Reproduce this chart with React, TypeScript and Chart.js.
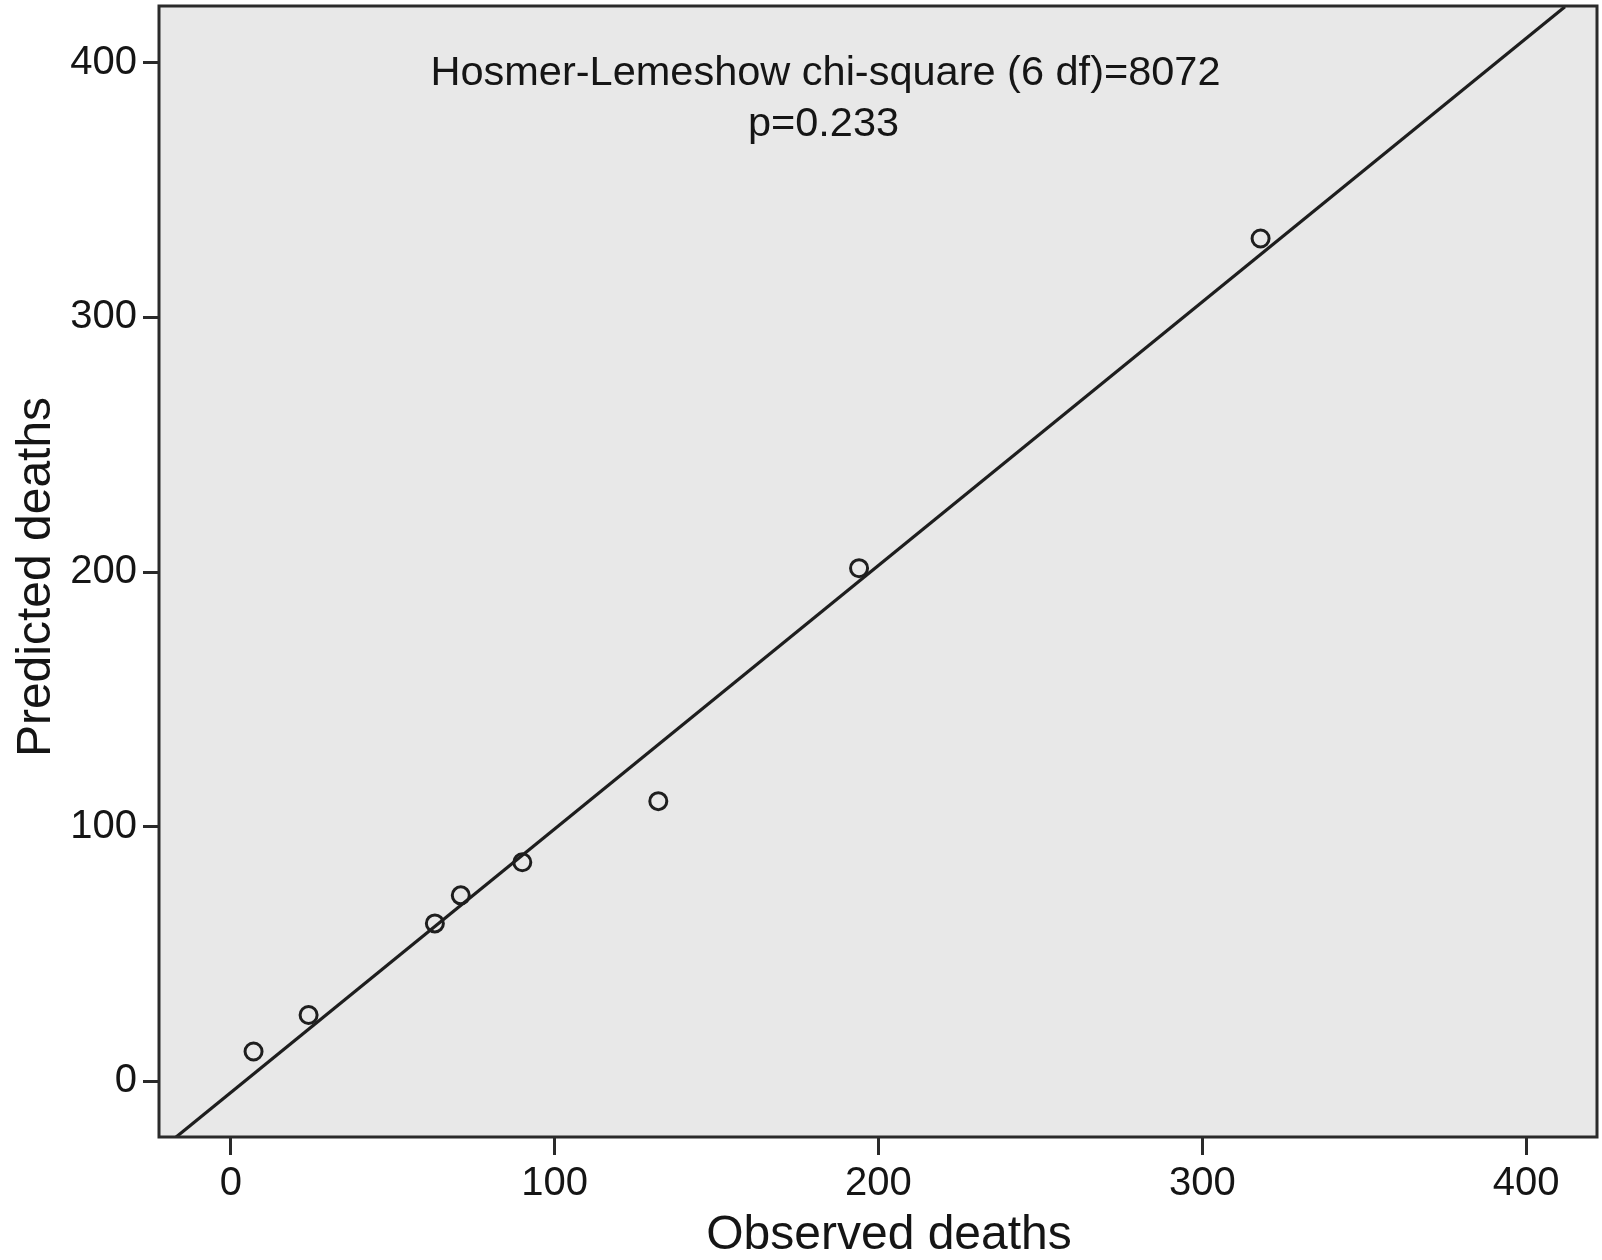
import React, { useEffect, useRef } from "react";
import { Chart, registerables } from "chart.js";

Chart.register(...registerables);

// Observed vs predicted deaths (Hosmer-Lemeshow groups)
const observedDeaths = [7, 24, 63, 71, 90, 132, 194, 318];
const predictedDeaths = [11.7, 26, 62, 73, 86, 110, 201.5, 331];

// Fitted reference line end points
const fitLineX = [-17, 412];
const fitLineY = [-22, 422];

const tickValues = [0, 100, 200, 300, 400];
const xRange = [-22.2, 421.9];
const yRange = [-21.9, 422.3];

const statLine1 = "Hosmer-Lemeshow chi-square (6 df)=8072";
const statLine2 = "p=0.233";
const xTitle = "Observed deaths";
const yTitle = "Predicted deaths";

const FONT = "'Liberation Sans', Arial, sans-serif";
const INK = "#151515";

const framePlugin = {
  id: "frameAndText",
  beforeDatasetsDraw(chart: any) {
    const { ctx, chartArea } = chart;
    ctx.save();
    ctx.fillStyle = "#e8e8e8";
    ctx.fillRect(chartArea.left, chartArea.top, chartArea.right - chartArea.left, chartArea.bottom - chartArea.top);
    ctx.restore();
  },
  afterDatasetsDraw(chart: any) {
    const { ctx, chartArea } = chart;
    ctx.save();
    ctx.strokeStyle = "#2a2a2a";
    ctx.lineWidth = 3;
    ctx.strokeRect(chartArea.left, chartArea.top, chartArea.right - chartArea.left, chartArea.bottom - chartArea.top);

    ctx.fillStyle = INK;
    ctx.textAlign = "center";
    ctx.textBaseline = "alphabetic";
    ctx.font = `41.5px ${FONT}`;
    ctx.fillText(statLine1, 825.5, 85);
    ctx.fillText(statLine2, 823.5, 136);

    ctx.font = `48px ${FONT}`;
    ctx.fillText(xTitle, 889, 1249);

    ctx.translate(50, 577);
    ctx.rotate(-Math.PI / 2);
    ctx.fillText(yTitle, 0, 0);
    ctx.restore();
  },
};

export default function App() {
  const ref = useRef<HTMLCanvasElement | null>(null);

  useEffect(() => {
    document.body.style.margin = "0";
    const canvas = ref.current;
    if (!canvas) return;
    const points = observedDeaths.map((x, i) => ({ x, y: predictedDeaths[i] }));
    const line = fitLineX.map((x, i) => ({ x, y: fitLineY[i] }));

    const tickFont = { family: FONT, size: 40 };

    const chart = new Chart(canvas, {
      type: "scatter",
      data: {
        datasets: [
          {
            label: "Fit",
            data: line,
            showLine: true,
            borderColor: "#1e1e1e",
            borderWidth: 3.2,
            pointRadius: 0,
            fill: false,
            order: 2,
          },
          {
            label: "Groups",
            data: points,
            showLine: false,
            pointRadius: 8.5,
            pointStyle: "circle",
            borderWidth: 3,
            borderColor: "#1e1e1e",
            backgroundColor: "rgba(0,0,0,0)",
            order: 1,
          },
        ],
      },
      plugins: [framePlugin],
      options: {
        responsive: false,
        animation: false,
        layout: { padding: 0, autoPadding: false },
        plugins: {
          legend: { display: false },
          tooltip: { enabled: false },
        },
        scales: {
          x: {
            type: "linear",
            min: xRange[0],
            max: xRange[1],
            afterBuildTicks: (scale: any) => {
              scale.ticks = tickValues.map((v) => ({ value: v }));
            },
            afterFit: (scale: any) => {
              scale.height = 123;
              scale.paddingLeft = 0;
              scale.paddingRight = 5;
            },
            border: { display: false },
            grid: {
              drawOnChartArea: false,
              drawTicks: true,
              tickLength: 18,
              color: "#2a2a2a",
              lineWidth: 3,
            },
            ticks: {
              font: tickFont,
              color: INK,
              padding: 5,
              maxRotation: 0,
              autoSkip: false,
              callback: (v: any) => String(v),
            },
          },
          y: {
            type: "linear",
            min: yRange[0],
            max: yRange[1],
            afterBuildTicks: (scale: any) => {
              scale.ticks = tickValues.map((v) => ({ value: v }));
            },
            afterFit: (scale: any) => {
              scale.width = 159;
              scale.paddingTop = 6;
              scale.paddingBottom = 0;
            },
            border: { display: false },
            grid: {
              drawOnChartArea: false,
              drawTicks: true,
              tickLength: 16,
              color: "#2a2a2a",
              lineWidth: 3,
            },
            ticks: {
              font: tickFont,
              color: INK,
              padding: 6,
              autoSkip: false,
              callback: (v: any) => String(v),
            },
          },
        },
      },
    });
    return () => chart.destroy();
  }, []);

  return (
    <div style={{ position: "absolute", left: 0, top: 0, width: 1602, height: 1260, background: "#fff" }}>
      <canvas ref={ref} width={1602} height={1260} style={{ display: "block" }} />
    </div>
  );
}
